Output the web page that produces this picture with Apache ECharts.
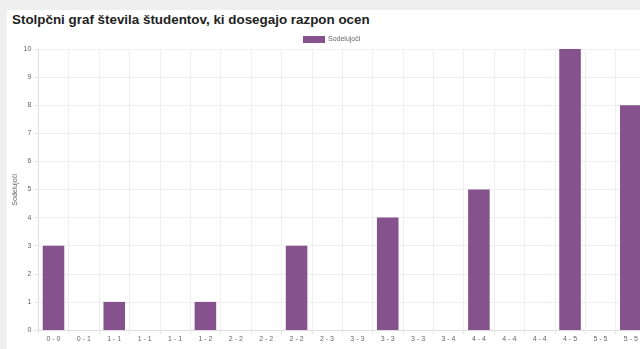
<!DOCTYPE html>
<html>
<head>
<meta charset="utf-8">
<script src="https://cdn.jsdelivr.net/npm/echarts@6/dist/echarts.min.js"></script>
<style>
  html, body { margin: 0; padding: 0; background: #efefef; overflow: hidden; }
  #panel { position: absolute; left: 7px; top: 10px; width: 633px; height: 339px; background: #fff; }
  #title { position: absolute; left: 12px; top: 12px; font: bold 13.4px "Liberation Sans", Arial, sans-serif; color: #222; white-space: nowrap; }
  #chart { position: absolute; left: 0; top: 0; width: 640px; height: 349px; }
</style>
</head>
<body>
<div id="panel"></div>
<div id="title">Stolpčni graf števila študentov, ki dosegajo razpon ocen</div>
<div id="chart"></div>
<script>
const categories = ['0 - 0', '0 - 1', '1 - 1', '1 - 1', '1 - 1', '1 - 2', '2 - 2', '2 - 2', '2 - 2', '2 - 3',
  '3 - 3', '3 - 3', '3 - 3', '3 - 4', '4 - 4', '4 - 4', '4 - 4', '4 - 5', '5 - 5', '5 - 5']
const participants = [3, 0, 1, 0, 0, 1, 0, 0, 3, 0, 0, 4, 0, 0, 5, 0, 0, 10, 0, 8]
const seriesName = 'Sodelujoči'
const yAxisName = 'Sodelujoči'
const xAxisName = 'Ocene'

const chart = echarts.init(document.getElementById('chart'))
const labelColor = '#666'

chart.setOption({
  animation: false,
  textStyle: { fontFamily: 'Liberation Sans, Arial, sans-serif' },
  legend: {
    data: [seriesName],
    left: 303,
    top: 36,
    padding: 0,
    itemWidth: 22,
    itemHeight: 7,
    itemGap: 4,
    icon: 'rect',
    textStyle: { fontSize: 7, color: labelColor, padding: [0, 0, 0, -2] },
  },
  grid: { left: 38.3, right: -6, top: 49, bottom: 19, containLabel: false, outerBoundsMode: 'none' },
  xAxis: {
    type: 'category',
    data: categories.map((c, i) => ({ value: i, label: c })),
    axisLabel: { color: labelColor, fontSize: 7, margin: 6, interval: 0, formatter: (v, i) => categories[i] },
    axisLine: { lineStyle: { color: '#ddd' } },
    axisTick: { show: true, length: 4, lineStyle: { color: '#e6e6e6' } },
    splitLine: { show: true, lineStyle: { color: '#efefef' } },
    name: xAxisName,
    nameLocation: 'middle',
    nameGap: 20,
    nameMoveOverlap: false,
    nameTextStyle: { color: labelColor, fontSize: 7 },
  },
  yAxis: {
    type: 'value',
    min: 0,
    max: 10,
    interval: 1,
    axisLabel: { color: labelColor, fontSize: 7, margin: 7 },
    axisLine: { show: true, lineStyle: { color: '#ddd' } },
    axisTick: { show: true, length: 4, lineStyle: { color: '#e6e6e6' } },
    splitLine: { lineStyle: { color: '#efefef' } },
    name: yAxisName,
    nameLocation: 'middle',
    nameGap: 20,
    nameMoveOverlap: false,
    nameTextStyle: { color: labelColor, fontSize: 7 },
  },
  series: [{
    name: seriesName,
    type: 'bar',
    data: participants,
    barWidth: '71%',
    itemStyle: { color: '#86528d' },
  }],
})
</script>
</body>
</html>
